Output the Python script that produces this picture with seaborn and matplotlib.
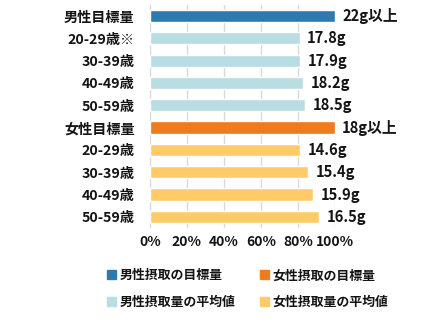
import matplotlib
matplotlib.use("Agg")
import matplotlib.pyplot as plt
from matplotlib.patches import Patch
import seaborn as sns
import pandas as pd

sns.set_style("white")
plt.rcParams['font.family'] = ['Noto Sans CJK JP', 'DejaVu Sans']
plt.rcParams['font.weight'] = 'bold'

labels = ["男性目標量", "20-29歳※", "30-39歳", "40-49歳", "50-59歳",
          "女性目標量", "20-29歳", "30-39歳", "40-49歳", "50-59歳"]
grams = [22.0, 17.8, 17.9, 18.2, 18.5, 18.0, 14.6, 15.4, 15.9, 16.5]
targets = [22.0] * 5 + [18.0] * 5
value_labels = ["22g以上", "17.8g", "17.9g", "18.2g", "18.5g",
                "18g以上", "14.6g", "15.4g", "15.9g", "16.5g"]
ticks = [0, 20, 40, 60, 80, 100]

c_male_target = "#2E7AAD"
c_male_avg = "#B8DDE2"
c_female_target = "#EE7B1E"
c_female_avg = "#FFCB69"
colors = [c_male_target] + [c_male_avg] * 4 + [c_female_target] + [c_female_avg] * 4
text_color = "#141414"

df = pd.DataFrame({
    "row": [str(i) for i in range(len(labels))],
    "pct": [g / t * 100 for g, t in zip(grams, targets)],
})

fig = plt.figure(figsize=(4.36, 3.23), dpi=100)
ax = fig.add_axes([0.344, 0.294, 0.424, 0.691])

sns.barplot(data=df, x="pct", y="row", hue="row", palette=colors,
            orient="h", width=0.55, legend=False, ax=ax, saturation=1)

ax.set_xlim(0, 100)
ax.set_ylim(9.5, -0.5)
ax.set_xticks(ticks)
ax.set_xticklabels([f"{t}%" for t in ticks], fontsize=10, color=text_color)
ax.set_yticks(range(len(labels)))
ax.set_yticklabels(labels, fontsize=10.2, color=text_color)
ax.tick_params(axis="both", length=0)
ax.tick_params(axis="x", pad=5)
ax.tick_params(axis="y", pad=11)
ax.set_xlabel("")
ax.set_ylabel("")
ax.xaxis.grid(True, color="#d9d9d9", linewidth=1)
ax.set_axisbelow(True)
for s in ax.spines.values():
    s.set_visible(False)

for i, (p, txt) in enumerate(zip(df["pct"], value_labels)):
    ax.text(p + 4, i, txt, va="center", ha="left", fontsize=10.6,
            color=text_color, fontweight="bold")

handles = [Patch(color=c_male_target, label="男性摂取の目標量"),
           Patch(color=c_male_avg, label="男性摂取量の平均値"),
           Patch(color=c_female_target, label="女性摂取の目標量"),
           Patch(color=c_female_avg, label="女性摂取量の平均値")]
fig.legend(handles=handles, ncol=2, loc="center", bbox_to_anchor=(0.568, 0.107),
           frameon=False, fontsize=9.3, handlelength=0.7, handleheight=0.7,
           handletextpad=0.3, columnspacing=1.9, labelspacing=0.95,
           labelcolor=text_color)

fig.savefig("out.png", dpi=100)
